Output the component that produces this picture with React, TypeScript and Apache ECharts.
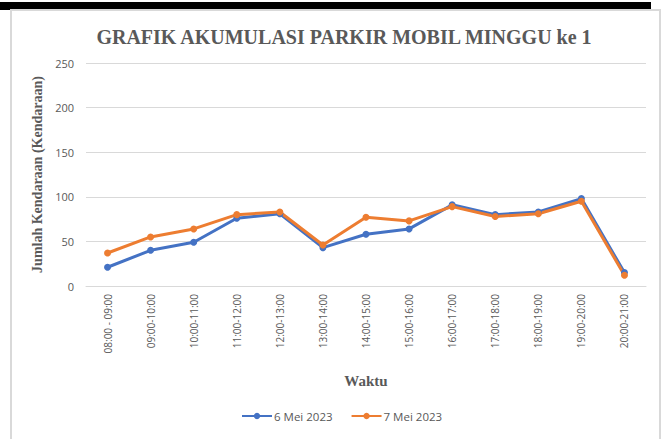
import React, { useEffect, useRef } from "react";
import * as echarts from "echarts";

const categories = [
  "08:00 - 09:00", "09:00-10:00", "10:00-11:00", "11:00-12:00", "12:00-13:00",
  "13:00-14:00", "14:00-15:00", "15:00-16:00", "16:00-17:00", "17:00-18:00",
  "18:00-19:00", "19:00-20:00", "20:00-21:00",
];
const may6 = [21, 40, 49, 76, 81, 43, 58, 64, 91, 80, 83, 98, 15];
const may7 = [37, 55, 64, 80, 83, 46, 77, 73, 89, 78, 81, 95, 12];
const yTicks = [0, 50, 100, 150, 200, 250];

export default function App() {
  const ref = useRef<HTMLDivElement>(null);
  useEffect(() => {
    document.body.style.margin = "0";
    const chart = echarts.init(ref.current!, null, { renderer: "svg" });
    const serif = "'Liberation Serif', 'DejaVu Serif', serif";
    const sans = "'Open Sans', 'Liberation Sans', sans-serif";
    chart.setOption({
      animation: false,
      backgroundColor: "#ffffff",
      graphic: [
        { type: "rect", shape: { x: 0, y: 2, width: 651, height: 8 }, style: { fill: "#000000" }, silent: true },
        { type: "rect", shape: { x: 11, y: 10, width: 649, height: 440 }, style: { fill: "none", stroke: "#d9d9d9", lineWidth: 2 }, silent: true },
      ],
      title: {
        text: "GRAFIK AKUMULASI PARKIR MOBIL MINGGU ke 1",
        left: 339,
        textAlign: "center",
        top: 22,
        textStyle: { fontFamily: serif, fontWeight: "bold", fontSize: 20, color: "#595959" },
      },
      legend: {
        bottom: 12,
        left: 236,
        itemWidth: 30,
        itemHeight: 8,
        itemGap: 18,
        textStyle: { fontFamily: sans, fontSize: 11.5, color: "#595959", padding: [0, 0, 0, -3] },
        data: ["6 Mei 2023", "7 Mei 2023"],
      },
      grid: { left: 86, right: 16, top: 63, bottom: 153 },
      xAxis: {
        type: "category",
        data: categories,
        name: "Waktu",
        nameLocation: "middle",
        nameGap: 87,
        nameTextStyle: { fontFamily: serif, fontWeight: "bold", fontSize: 15, color: "#595959" },
        axisLine: { lineStyle: { color: "#d9d9d9" } },
        axisTick: { show: false },
        axisLabel: { rotate: 90, fontFamily: sans, fontSize: 10, color: "#595959", margin: 8, interval: 0 },
      },
      yAxis: {
        type: "value",
        min: yTicks[0],
        max: yTicks[yTicks.length - 1],
        interval: 50,
        name: "Jumlah Kendaraan (Kendaraan)",
        nameLocation: "middle",
        nameGap: 42,
        nameTextStyle: { fontFamily: serif, fontWeight: "bold", fontSize: 14, color: "#595959" },
        axisLine: { show: false },
        axisTick: { show: false },
        axisLabel: { fontFamily: sans, fontSize: 11, color: "#595959", margin: 12 },
        splitLine: { lineStyle: { color: "#d9d9d9" } },
      },
      series: [
        {
          name: "6 Mei 2023",
          type: "line",
          data: may6,
          color: "#4472C4",
          symbol: "circle",
          symbolSize: 7,
          lineStyle: { width: 3 },
        },
        {
          name: "7 Mei 2023",
          type: "line",
          data: may7,
          color: "#ED7D31",
          symbol: "circle",
          symbolSize: 7,
          lineStyle: { width: 3 },
        },
      ],
    });
    return () => chart.dispose();
  }, []);
  return <div ref={ref} style={{ width: 662, height: 439 }} />;
}
